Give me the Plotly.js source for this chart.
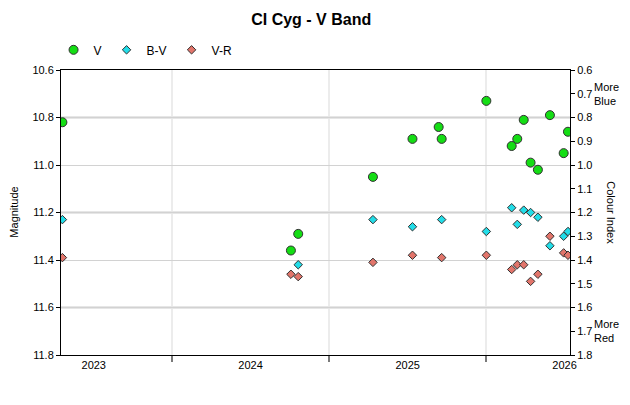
<!DOCTYPE html>
<html>
<head>
<meta charset="utf-8">
<script src="https://cdn.plot.ly/plotly-3.0.1.min.js"></script>
<style>
  html, body { margin: 0; padding: 0; background: #fff; }
  #chart { width: 630px; height: 405px; }
</style>
</head>
<body>
<div id="chart"></div>
<script>
// V magnitude observations
const vDates = ['2022-10-20', '2024-04-04', '2024-04-21', '2024-10-12', '2025-01-12',
  '2025-03-14', '2025-03-21', '2025-07-03', '2025-08-31', '2025-09-13', '2025-09-28',
  '2025-10-14', '2025-10-31', '2025-11-28', '2025-12-30', '2026-01-09'];
const vMag = [10.82, 11.36, 11.29, 11.05, 10.89, 10.84, 10.89, 10.73, 10.92, 10.89,
  10.81, 10.99, 11.02, 10.79, 10.95, 10.86];

// B-V colour index
const bvDates = ['2022-10-20', '2024-04-21', '2024-10-12', '2025-01-12', '2025-03-21',
  '2025-07-03', '2025-08-31', '2025-09-13', '2025-09-28', '2025-10-14', '2025-10-31',
  '2025-11-28', '2025-12-30', '2026-01-09'];
const bvIndex = [1.23, 1.42, 1.23, 1.26, 1.23, 1.28, 1.18, 1.25, 1.19, 1.20, 1.22,
  1.34, 1.30, 1.28];

// V-R colour index
const vrDates = ['2022-10-20', '2024-04-04', '2024-04-21', '2024-10-12', '2025-01-12',
  '2025-03-21', '2025-07-03', '2025-08-31', '2025-09-13', '2025-09-28', '2025-10-14',
  '2025-10-31', '2025-11-28', '2025-12-30', '2026-01-09'];
const vrIndex = [1.39, 1.46, 1.47, 1.41, 1.38, 1.39, 1.38, 1.44, 1.42, 1.42, 1.49,
  1.46, 1.30, 1.37, 1.38];

// Year labels and the mid-year grid positions
const yearTicks = ['2023-01-01', '2024-01-01', '2025-01-01', '2026-01-01'];
const yearLabels = ['2023', '2024', '2025', '2026'];
const midYears = ['2023-07-02', '2024-07-02', '2025-07-02'];

const FONT = 'Liberation Sans, Arial, sans-serif';
const edge = { color: '#303030', width: 1 };

const traces = [
  {
    name: 'V', x: vDates, y: vMag, type: 'scatter', mode: 'markers',
    xaxis: 'x', yaxis: 'y',
    marker: { symbol: 'circle', size: 9, color: '#14dd14', line: edge }
  },
  {
    name: 'B-V', x: bvDates, y: bvIndex, type: 'scatter', mode: 'markers',
    xaxis: 'x', yaxis: 'y2',
    marker: { symbol: 'diamond', size: 6.5, color: '#22dde8', line: edge }
  },
  {
    name: 'V-R', x: vrDates, y: vrIndex, type: 'scatter', mode: 'markers',
    xaxis: 'x', yaxis: 'y2',
    marker: { symbol: 'diamond', size: 6.5, color: '#e2756b', line: edge }
  }
];

const layout = {
  width: 630, height: 405,
  margin: { l: 61, r: 60, t: 70, b: 50 },
  paper_bgcolor: '#ffffff', plot_bgcolor: '#ffffff',
  font: { family: FONT, size: 11, color: '#000' },
  title: {
    text: '<b>CI Cyg - V Band</b>',
    font: { family: FONT, size: 16, color: '#000' },
    xref: 'container', x: 0.494, xanchor: 'center',
    yref: 'container', y: 0.953, yanchor: 'middle'
  },
  showlegend: true,
  legend: {
    orientation: 'h', x: 0.085, xref: 'container', xanchor: 'left',
    y: 0.877, yref: 'container', yanchor: 'middle',
    font: { family: FONT, size: 12, color: '#000' },
    bgcolor: 'rgba(0,0,0,0)'
  },
  xaxis: {
    type: 'date',
    range: ['2022-10-16 18:00', '2026-01-13 18:00'],
    tickmode: 'array', tickvals: yearTicks, ticktext: yearLabels,
    ticks: '', showgrid: false, zeroline: false,
    showline: true, linecolor: '#000', linewidth: 1, mirror: true,
    tickfont: { family: FONT, size: 11, color: '#000' },
    minor: {
      tickmode: 'array', tickvals: midYears,
      ticks: 'outside', ticklen: 6, tickwidth: 2, tickcolor: '#7a7a7a',
      showgrid: true, gridcolor: '#ececec', gridwidth: 2
    }
  },
  yaxis: {
    range: [11.8, 10.6], tickmode: 'linear', tick0: 10.6, dtick: 0.2,
    tickformat: '.1f',
    ticks: 'outside', ticklen: 4, tickcolor: '#000',
    showline: true, linecolor: '#000', linewidth: 1,
    showgrid: true, gridcolor: '#d2d2d2', gridwidth: 1, zeroline: false,
    tickfont: { family: FONT, size: 11, color: '#000' }
  },
  yaxis2: {
    overlaying: 'y', side: 'right', anchor: 'x',
    range: [1.8, 0.6], tickmode: 'linear', tick0: 0.6, dtick: 0.1,
    tickformat: '.1f',
    ticks: 'outside', ticklen: 4, tickcolor: '#000',
    showline: true, linecolor: '#000', linewidth: 1,
    showgrid: false, zeroline: false,
    tickfont: { family: FONT, size: 11, color: '#000' },
    minor: {
      tickmode: 'array', tickvals: [0.8, 1.2, 1.6], ticks: '',
      showgrid: true, gridcolor: '#e6e6e6', gridwidth: 3
    }
  },
  annotations: [
    {
      text: 'Magnitude', textangle: -90, showarrow: false,
      xref: 'paper', x: -0.094, xanchor: 'center',
      yref: 'paper', y: 0.5, yanchor: 'middle',
      font: { family: FONT, size: 11, color: '#000' }
    },
    {
      text: 'Colour Index', textangle: 90, showarrow: false,
      xref: 'paper', x: 1.081, xanchor: 'center',
      yref: 'paper', y: 0.5, yanchor: 'middle',
      font: { family: FONT, size: 11, color: '#000' }
    },
    {
      text: 'More<br>Blue', showarrow: false, align: 'left',
      xref: 'paper', x: 1.043, xanchor: 'left',
      yref: 'y2', y: 0.7, yanchor: 'middle',
      font: { family: FONT, size: 11, color: '#000' }
    },
    {
      text: 'More<br>Red', showarrow: false, align: 'left',
      xref: 'paper', x: 1.043, xanchor: 'left',
      yref: 'y2', y: 1.7, yanchor: 'middle',
      font: { family: FONT, size: 11, color: '#000' }
    }
  ]
};

Plotly.newPlot('chart', traces, layout, { displayModeBar: false, staticPlot: true });
</script>
</body>
</html>
